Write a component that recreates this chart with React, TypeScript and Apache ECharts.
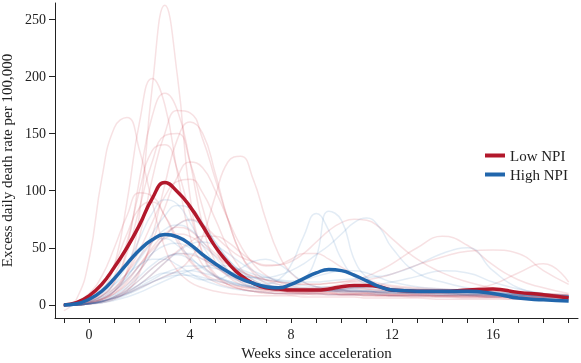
import React, { useEffect, useRef } from "react";
import * as echarts from "echarts";

const weeks = [-1, -0.5, 0, 0.5, 1, 1.5, 2, 2.5, 3, 3.5, 4, 4.5, 5, 5.5, 6, 6.5, 7, 7.5, 8, 8.5, 9, 9.5, 10, 10.5, 11, 11.5, 12, 13, 14, 15, 16, 17, 18, 19];

const lowNpiMean = [0, 2, 8, 18, 33, 50, 70, 93, 107, 99, 86, 69, 51, 37, 26, 19, 15, 14, 13, 13, 13, 14, 16, 17, 17, 16, 13, 12, 12, 13, 14, 11, 9, 6];
const highNpiMean = [0, 1, 5, 12, 23, 36, 48, 57, 61.5, 59.5, 53, 44, 36, 29, 23, 19, 16, 15, 18, 23, 28, 31, 30, 26, 21, 16, 13, 12, 12, 12, 10, 6, 4.5, 3.5];

const lowNpiRegions = [
  [0, 0, 2, 5, 12, 30, 80, 190, 262, 200, 95, 45, 25, 18, 14, 12, 10, 10, 9, 9, 10, 10, 9, 9, 8, 8, 8, 7, 7, 6, 6, 5, 5, 5],
  [0, 1, 4, 12, 35, 90, 160, 198, 175, 115, 60, 35, 25, 20, 16, 14, 12, 12, 11, 11, 12, 12, 11, 10, 10, 10, 9, 9, 8, 8, 8, 7, 7, 6],
  [-5, 5, 40, 110, 155, 164, 135, 90, 50, 30, 20, 15, 12, 10, 9, 8, 8, 8, 8, 7, 7, 7, 7, 7, 6, 6, 6, 6, 5, 5, 5, 5, 4, 4],
  [0, 1, 3, 8, 20, 50, 110, 165, 185, 170, 125, 70, 38, 25, 18, 15, 13, 12, 12, 11, 11, 11, 10, 10, 10, 9, 9, 9, 8, 8, 7, 7, 7, 6],
  [0, 0, 2, 5, 12, 28, 60, 110, 150, 170, 168, 145, 110, 75, 45, 30, 22, 18, 15, 14, 13, 13, 12, 12, 11, 11, 10, 10, 9, 9, 8, 8, 7, 7],
  [0, 0, 1, 3, 6, 10, 15, 20, 25, 30, 40, 60, 95, 125, 130, 110, 75, 45, 28, 20, 16, 14, 13, 12, 12, 11, 11, 10, 10, 9, 9, 8, 8, 7],
  [0, 1, 3, 8, 20, 45, 85, 125, 148, 150, 125, 85, 50, 30, 20, 15, 13, 12, 11, 11, 12, 13, 14, 15, 14, 13, 12, 11, 10, 10, 9, 9, 8, 8],
  [0, 1, 4, 10, 25, 55, 100, 135, 140, 118, 80, 45, 27, 18, 14, 12, 11, 10, 10, 10, 10, 10, 9, 9, 9, 9, 8, 8, 8, 8, 7, 7, 6, 6],
  [0, 0, 2, 5, 10, 18, 30, 45, 60, 70, 75, 70, 60, 50, 42, 38, 35, 35, 38, 45, 55, 65, 72, 75, 74, 68, 58, 40, 28, 20, 15, 12, 10, 8],
  [0, 0, 1, 4, 10, 20, 35, 50, 62, 68, 65, 55, 45, 36, 30, 25, 22, 20, 19, 18, 18, 19, 20, 22, 25, 30, 36, 50, 60, 52, 35, 22, 15, 10],
  [0, 1, 3, 8, 15, 28, 42, 55, 62, 60, 52, 42, 33, 26, 21, 18, 16, 15, 14, 14, 14, 14, 14, 14, 14, 13, 13, 12, 12, 14, 18, 28, 36, 20],
  [0, 0, 2, 6, 14, 28, 48, 72, 95, 108, 110, 98, 75, 50, 32, 22, 16, 13, 11, 10, 9, 9, 9, 9, 8, 8, 8, 8, 7, 7, 7, 6, 6, 5],
  [0, 3, 10, 25, 50, 78, 98, 95, 78, 55, 38, 27, 20, 16, 14, 12, 11, 10, 10, 10, 10, 9, 9, 9, 9, 8, 8, 8, 8, 7, 7, 7, 6, 6],
  [0, 0, 1, 3, 7, 13, 22, 32, 40, 45, 44, 40, 34, 28, 23, 19, 16, 14, 13, 12, 12, 12, 12, 11, 11, 11, 10, 10, 10, 9, 9, 9, 8, 8],
  [0, 0, 1, 3, 7, 15, 30, 55, 85, 112, 125, 120, 100, 75, 52, 36, 26, 20, 17, 15, 15, 16, 18, 20, 20, 18, 16, 14, 13, 12, 12, 11, 10, 9],
  [0, 2, 6, 16, 35, 62, 85, 90, 78, 58, 40, 28, 22, 18, 16, 15, 14, 14, 14, 13, 13, 13, 13, 12, 12, 12, 12, 11, 11, 11, 10, 10, 9, 9],
  [0, 0, 1, 3, 6, 11, 18, 27, 37, 47, 55, 60, 60, 55, 46, 38, 34, 35, 40, 45, 45, 40, 33, 27, 22, 19, 17, 15, 14, 13, 12, 11, 10, 9],
  [0, 0, 1, 2, 5, 12, 28, 60, 105, 145, 160, 150, 115, 75, 45, 28, 19, 15, 13, 12, 11, 11, 10, 10, 10, 9, 9, 9, 8, 8, 8, 7, 7, 7],
  [0, 0, 2, 5, 12, 22, 35, 48, 58, 62, 60, 52, 43, 35, 29, 25, 22, 20, 19, 18, 18, 19, 20, 21, 22, 24, 27, 35, 42, 47, 48, 45, 30, 18],
];

const highNpiRegions = [
  [0, 1, 3, 8, 18, 35, 58, 80, 92, 88, 72, 52, 36, 26, 20, 16, 14, 13, 12, 12, 12, 12, 11, 11, 11, 10, 10, 10, 9, 9, 8, 8, 7, 7],
  [0, 0, 1, 3, 8, 15, 25, 35, 42, 44, 40, 33, 26, 21, 18, 17, 18, 22, 35, 60, 80, 65, 40, 25, 18, 15, 13, 12, 11, 10, 10, 9, 8, 8],
  [0, 0, 1, 3, 7, 13, 22, 32, 40, 45, 45, 40, 33, 27, 22, 19, 17, 16, 17, 22, 42, 82, 74, 40, 24, 17, 14, 13, 12, 11, 10, 9, 8, 7],
  [0, 0, 2, 6, 12, 22, 34, 45, 52, 54, 50, 43, 36, 30, 26, 24, 24, 26, 30, 36, 44, 52, 62, 72, 76, 68, 50, 28, 20, 15, 12, 10, 8, 7],
  [0, 0, 1, 3, 6, 10, 16, 22, 28, 32, 34, 34, 32, 29, 26, 24, 22, 21, 20, 20, 20, 21, 22, 23, 24, 25, 27, 35, 45, 50, 30, 15, 10, 8],
  [0, 1, 3, 7, 14, 25, 40, 55, 66, 70, 66, 55, 42, 31, 24, 20, 17, 15, 14, 13, 13, 13, 12, 12, 12, 11, 11, 10, 10, 9, 9, 8, 8, 7],
  [0, 0, 1, 3, 6, 11, 18, 27, 37, 46, 53, 55, 52, 45, 37, 30, 25, 21, 18, 17, 16, 16, 16, 15, 15, 14, 13, 12, 11, 11, 10, 9, 9, 8],
  [0, 1, 4, 10, 18, 27, 35, 40, 40, 35, 28, 22, 18, 15, 13, 12, 11, 10, 10, 10, 10, 9, 9, 9, 9, 9, 8, 8, 8, 8, 7, 7, 6, 6],
  [0, 0, 1, 4, 9, 17, 30, 45, 60, 70, 74, 68, 55, 40, 29, 22, 18, 15, 14, 13, 12, 12, 12, 12, 12, 11, 11, 11, 10, 10, 9, 9, 8, 8],
  [0, 0, 1, 3, 7, 12, 18, 24, 28, 28, 25, 22, 22, 26, 32, 38, 40, 36, 28, 20, 16, 14, 13, 12, 12, 11, 11, 10, 10, 9, 9, 8, 7, 7],
  [0, 2, 6, 14, 25, 38, 50, 57, 58, 52, 42, 32, 25, 20, 17, 15, 14, 13, 13, 13, 13, 13, 14, 15, 16, 16, 15, 14, 13, 12, 11, 10, 9, 8],
  [0, 0, 1, 2, 5, 9, 14, 20, 25, 29, 30, 28, 25, 21, 18, 16, 15, 14, 13, 13, 13, 13, 13, 13, 12, 12, 12, 12, 11, 11, 10, 9, 8, 7],
  [0, 0, 2, 5, 12, 24, 42, 62, 78, 87, 85, 72, 55, 40, 30, 24, 20, 18, 16, 15, 14, 14, 13, 13, 13, 12, 12, 12, 11, 10, 10, 9, 8, 8],
  [0, 0, 1, 2, 4, 7, 11, 16, 21, 26, 30, 33, 35, 34, 31, 27, 24, 22, 21, 22, 25, 28, 30, 30, 28, 24, 20, 16, 14, 12, 11, 10, 9, 8],
  [0, 0, 1, 3, 6, 10, 15, 20, 24, 26, 26, 24, 21, 19, 17, 16, 15, 14, 14, 14, 14, 14, 14, 15, 16, 18, 20, 25, 30, 28, 20, 14, 10, 8],
];

const xTickValues = [-1, 0, 1, 2, 3, 4, 5, 6, 7, 8, 9, 10, 11, 12, 13, 14, 15, 16, 17, 18, 19];
const xLabelValues = [0, 4, 8, 12, 16];
const yTickValues = [0, 50, 100, 150, 200, 250];

const FONT = '"Liberation Serif", "DejaVu Serif", serif';
const RED = "#b2182b";
const BLUE = "#2166ac";

const toPairs = (vals: number[]) => weeks.map((w, i) => [w, vals[i]]);

export default function App() {
  const ref = useRef<HTMLDivElement>(null);
  useEffect(() => {
    if (!ref.current) return;
    const chart = echarts.init(ref.current, null, { renderer: "svg" });
    const thin = (vals: number[], color: string, idx: number, group: string) => ({
      type: "line",
      name: group + " region " + idx,
      data: toPairs(vals),
      smooth: 0.5,
      symbol: "none",
      silent: true,
      lineStyle: { color, width: 1.5 },
      itemStyle: { color },
      z: 1,
    });
    const series: any[] = [
      ...lowNpiRegions.map((v, i) => thin(v, "rgba(200,40,60,0.14)", i, "low")),
      ...highNpiRegions.map((v, i) => thin(v, "rgba(40,110,180,0.13)", i, "high")),
      {
        type: "line",
        name: "Low NPI",
        data: toPairs(lowNpiMean),
        smooth: 0.5,
        symbol: "none",
        color: RED,
        lineStyle: { color: RED, width: 3.5 },
        itemStyle: { color: RED },
        z: 3,
      },
      {
        type: "line",
        name: "High NPI",
        data: toPairs(highNpiMean),
        smooth: 0.5,
        symbol: "none",
        color: BLUE,
        lineStyle: { color: BLUE, width: 3.5 },
        itemStyle: { color: BLUE },
        z: 4,
      },
    ];
    chart.setOption({
      animation: false,
      textStyle: { fontFamily: FONT },
      grid: { left: 55, right: 3, top: 3, bottom: 45, outerBoundsMode: "none", containLabel: false },
      legend: {
        data: ["Low NPI", "High NPI"],
        orient: "vertical",
        left: 480,
        top: 143,
        icon: "rect",
        itemWidth: 20,
        itemHeight: 4,
        itemGap: 4,
        textStyle: { fontFamily: FONT, fontSize: 15, color: "#222" },
      },
      xAxis: {
        type: "value",
        min: -1.35,
        max: 19.37,
        name: "Weeks since acceleration",
        nameLocation: "middle",
        nameGap: 27,
        nameTextStyle: { fontFamily: FONT, fontSize: 15, color: "#222" },
        axisLine: { show: true, onZero: false, lineStyle: { color: "#222", width: 1 } },
        axisTick: { show: true, inside: false, length: 5, customValues: xTickValues, lineStyle: { color: "#222" } },
        axisLabel: { customValues: xLabelValues, fontFamily: FONT, fontSize: 14, color: "#222", margin: 9 },
        splitLine: { show: false },
      },
      yAxis: {
        type: "value",
        min: -11.4,
        max: 264,
        name: "Excess daily death rate per 100,000",
        nameLocation: "middle",
        nameRotate: 90,
        nameGap: 29,
        nameTextStyle: { fontFamily: FONT, fontSize: 15, color: "#222" },
        axisLine: { show: true, onZero: false, lineStyle: { color: "#222", width: 1 } },
        axisTick: { show: true, inside: false, length: 6, customValues: yTickValues, lineStyle: { color: "#222" } },
        axisLabel: { customValues: yTickValues, fontFamily: FONT, fontSize: 14, color: "#222", margin: 9 },
        splitLine: { show: false },
      },
      series,
    });
    return () => chart.dispose();
  }, []);
  return <div ref={ref} style={{ position: "fixed", left: 0, top: 0, width: 581, height: 363 }} />;
}
